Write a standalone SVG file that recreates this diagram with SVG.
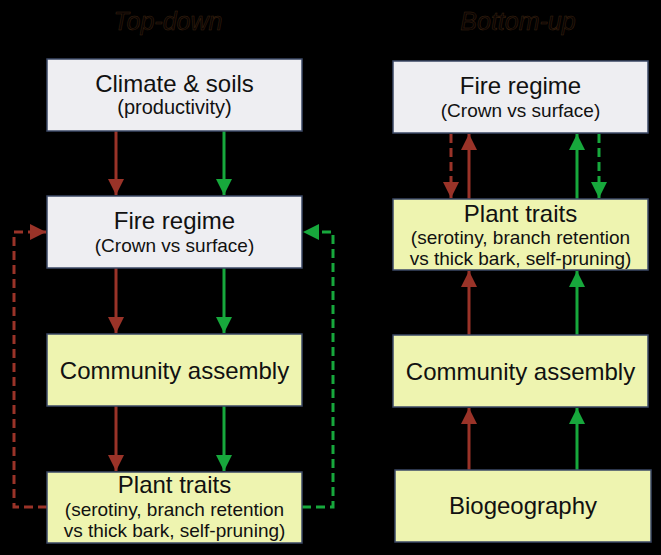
<svg xmlns="http://www.w3.org/2000/svg" width="661" height="555" viewBox="0 0 661 555">
<defs>
<style>
.bg{fill:#000}
.gray{fill:#eeeef2;stroke:#3b4866;stroke-width:1.5}
.yel{fill:#eef4b0;stroke:#3b4866;stroke-width:1.5}
.t1{font-family:"Liberation Sans",Arial,sans-serif;font-size:24px;fill:#111;text-anchor:middle}
.t2{font-family:"Liberation Sans",Arial,sans-serif;font-size:19px;fill:#111;text-anchor:middle}
.title{font-family:"Liberation Sans",Arial,sans-serif;font-style:italic;font-size:25px;fill:#0a0503;stroke:#3e2410;stroke-width:0.5;text-anchor:middle}
.r{stroke:#9a3328;stroke-width:3;fill:none}
.g{stroke:#17a83c;stroke-width:3;fill:none}
.d{stroke-dasharray:9 5}
</style>
<marker id="ar" markerUnits="userSpaceOnUse" markerWidth="16" markerHeight="16" refX="16" refY="8" orient="auto" viewBox="0 0 16 16">
<path d="M0,0 L16,8 L0,16 z" fill="#9a3328"/>
</marker>
<marker id="ag" markerUnits="userSpaceOnUse" markerWidth="16" markerHeight="16" refX="16" refY="8" orient="auto" viewBox="0 0 16 16">
<path d="M0,0 L16,8 L0,16 z" fill="#17a83c"/>
</marker>
</defs>
<rect class="bg" x="0" y="0" width="661" height="555"/>
<text class="title" x="168" y="30">Top-down</text>
<text class="title" x="518" y="30">Bottom-up</text>

<g id="connectors">
<line class="r" x1="116" y1="131" x2="116" y2="195" marker-end="url(#ar)"/>
<line class="g" x1="224" y1="131" x2="224" y2="195" marker-end="url(#ag)"/>
<line class="r" x1="116" y1="268" x2="116" y2="333" marker-end="url(#ar)"/>
<line class="g" x1="224" y1="268" x2="224" y2="333" marker-end="url(#ag)"/>
<line class="r" x1="116" y1="406" x2="116" y2="471" marker-end="url(#ar)"/>
<line class="g" x1="224" y1="406" x2="224" y2="471" marker-end="url(#ag)"/>
<polyline class="r d" points="47,507 14,507 14,232 46,232" marker-end="url(#ar)"/>
<polyline class="g d" points="302,507 333,507 333,232 303,232" marker-end="url(#ag)"/>

<line class="r d" x1="451" y1="134" x2="451" y2="198" marker-end="url(#ar)"/>
<line class="r" x1="469" y1="199" x2="469" y2="134" marker-end="url(#ar)"/>
<line class="g" x1="577" y1="199" x2="577" y2="134" marker-end="url(#ag)"/>
<line class="g d" x1="599" y1="134" x2="599" y2="198" marker-end="url(#ag)"/>
<line class="r" x1="469" y1="335" x2="469" y2="271" marker-end="url(#ar)"/>
<line class="g" x1="577" y1="335" x2="577" y2="271" marker-end="url(#ag)"/>
<line class="r" x1="469" y1="470" x2="469" y2="408" marker-end="url(#ar)"/>
<line class="g" x1="577" y1="470" x2="577" y2="408" marker-end="url(#ag)"/>
</g>

<g id="td-climate">
<rect class="gray" x="47" y="59" width="255" height="72"/>
<text class="t1" x="174.5" y="92">Climate &amp; soils</text>
<text class="t2" x="174.5" y="114" style="font-size:20px">(productivity)</text>
</g>
<g id="td-fire">
<rect class="gray" x="47" y="196" width="255" height="72"/>
<text class="t1" x="174.5" y="229">Fire regime</text>
<text class="t2" x="174.5" y="252">(Crown vs surface)</text>
</g>
<g id="td-community">
<rect class="yel" x="47" y="334" width="255" height="72"/>
<text class="t1" x="174.5" y="379">Community assembly</text>
</g>
<g id="td-traits">
<rect class="yel" x="47" y="472" width="255" height="71"/>
<text class="t1" x="174.5" y="493">Plant traits</text>
<text class="t2" x="174.5" y="516">(serotiny, branch retention</text>
<text class="t2" x="174.5" y="537">vs thick bark, self-pruning)</text>
</g>

<g id="bu-fire">
<rect class="gray" x="393" y="61" width="255" height="72"/>
<text class="t1" x="520.5" y="94">Fire regime</text>
<text class="t2" x="520.5" y="117">(Crown vs surface)</text>
</g>
<g id="bu-traits">
<rect class="yel" x="393" y="199" width="255" height="71"/>
<text class="t1" x="520.5" y="222">Plant traits</text>
<text class="t2" x="520.5" y="244">(serotiny, branch retention</text>
<text class="t2" x="520.5" y="265">vs thick bark, self-pruning)</text>
</g>
<g id="bu-community">
<rect class="yel" x="393" y="335" width="255" height="72"/>
<text class="t1" x="520.5" y="380">Community assembly</text>
</g>
<g id="bu-biogeography">
<rect class="yel" x="395" y="470" width="256" height="72"/>
<text class="t1" x="523" y="514">Biogeography</text>
</g>
</svg>
